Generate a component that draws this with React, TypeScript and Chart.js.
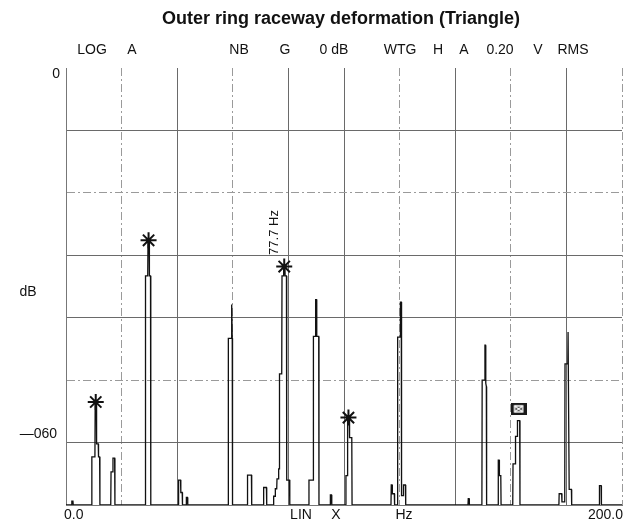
import React, { useEffect, useRef } from "react";
import { Chart, registerables } from "chart.js";

Chart.register(...registerables);

// ---------- data ----------
const TITLE = "Outer ring raceway deformation (Triangle)";
const HEADER_LABELS = ["LOG", "A", "NB", "G", "0 dB", "WTG", "H", "A", "0.20", "V", "RMS"];
const BOTTOM_LABELS = ["0.0", "LIN", "X", "Hz", "200.0"];
const Y_LABELS = ["0", "dB", "\u2014060"];
const PEAK_LABEL = "77.7 Hz";

const X_MIN = 0;
const X_MAX = 200;
const X_STEP = 20;
const Y_MIN = -70;
const Y_MAX = 0;
const Y_STEP = 10;

// spectrum trace (Hz, dB)
const FREQ_HZ = [
  0,
  2.0, 2.1, 2.5, 2.6,
  9.2, 9.3, 10.4, 10.5, 10.9, 11.0, 11.6, 11.7, 12.1, 12.2,
  16.1, 16.2, 16.8, 16.9, 17.5, 17.6,
  28.5, 28.6, 29.4, 29.5, 29.9, 30.0, 30.4, 30.5,
  40.4, 40.5, 41.2, 41.3, 41.8, 41.9, 43.2, 43.3, 43.7, 43.8,
  58.3, 58.4, 59.4, 59.5, 59.7, 59.8, 59.9,
  65.2, 65.3, 66.7, 66.8,
  71.0, 71.1, 72.1, 72.2,
  74.6, 74.7, 75.2, 75.3, 75.8, 75.9, 76.4, 76.5, 76.7, 76.8, 77.6, 77.7, 78.2, 78.3, 78.7, 78.8, 79.3, 79.4, 80.4, 80.5,
  87.3, 87.4, 88.9, 89.0, 89.7, 89.8, 90.1, 90.2, 90.9, 91.0,
  95.0, 95.1, 95.5, 95.6,
  100.6, 100.7, 101.2, 101.3, 101.9, 102.0, 102.8, 102.9,
  116.9, 117.0, 117.3, 117.4, 118.1, 118.2, 119.2, 119.3, 120.2, 120.3, 120.6, 120.7, 121.3, 121.4, 122.1, 122.2,
  144.6, 144.7, 145.0, 145.1,
  149.6, 149.7, 150.6, 150.7, 150.9, 151.0, 151.2, 151.3,
  155.4, 155.5, 155.8, 155.9, 156.4, 156.5,
  160.7, 160.8, 161.6, 161.7, 162.3, 162.4, 163.2, 163.3,
  177.3, 177.4, 178.3, 178.4, 179.4, 179.5, 180.5, 180.6, 180.9, 181.0, 181.8, 181.9,
  191.8, 191.9, 192.5, 192.6,
  200,
];
const LEVEL_DB = [
  -70,
  -70, -69.4, -69.4, -70,
  -70, -62.3, -62.3, -53.5, -53.5, -60.2, -60.2, -62.3, -62.3, -70,
  -70, -64.7, -64.7, -62.5, -62.5, -70,
  -70, -33.3, -33.3, -27.6, -27.6, -33.3, -33.3, -70,
  -70, -66, -66, -68, -68, -70, -70, -68.8, -68.8, -70,
  -70, -43.3, -43.3, -37.9, -37.9, -43.3, -70,
  -70, -65.2, -65.2, -70,
  -70, -67.2, -67.2, -70,
  -70, -68.6, -68.6, -67.4, -67.4, -65.8, -65.8, -64.2, -64.2, -49, -49, -33.3, -33.3, -31.8, -31.8, -33.3, -33.3, -66, -66, -70,
  -70, -66, -66, -43, -43, -37.1, -37.1, -43, -43, -70,
  -70, -68.4, -68.4, -70,
  -70, -65.3, -65.3, -56, -56, -59.2, -59.2, -70,
  -70, -66.8, -66.8, -68.2, -68.2, -70, -70, -43.1, -43.1, -37.5, -37.5, -68.5, -68.5, -66.8, -66.8, -70,
  -70, -69, -69, -70,
  -70, -50, -50, -44.4, -44.4, -50.5, -51, -70,
  -70, -62.8, -62.8, -65.3, -65.3, -70,
  -70, -63.4, -63.4, -59, -59, -56.5, -56.5, -70,
  -70, -68.2, -68.2, -69.5, -69.5, -47.4, -47.4, -42.3, -42.3, -67.5, -67.5, -70,
  -70, -66.9, -66.9, -70,
  -70,
];

// peak markers
const STAR_HZ = [10.7, 29.7, 78.5, 101.6];
const STAR_DB = [-53.5, -27.6, -31.8, -56];
const BOX_HZ = [162.8];
const BOX_DB = [-54.6];

// ---------- layout / style ----------
const W = 627;
const H = 524;
const FONT = '"Liberation Sans", Arial, Helvetica, sans-serif';
const TITLE_X = 341;
const HEADER_X = [92, 132, 239, 285, 334, 400, 438, 464, 500, 538, 573];
const BOTTOM_X = [64, 301, 336, 404, 588];
const SOLID_X = [40, 80, 100, 140, 180];
const SOLID_Y = [-10, -30, -40, -60];

function makeBoxMarker(): HTMLCanvasElement {
  const c = document.createElement("canvas");
  c.width = 16;
  c.height = 12;
  const g = c.getContext("2d")!;
  g.fillStyle = "#1a1a1a";
  g.fillRect(0, 0, 16, 12);
  g.strokeStyle = "#ffffff";
  g.lineWidth = 1.5;
  g.beginPath();
  g.moveTo(4, 3);
  g.lineTo(12, 9);
  g.moveTo(12, 3);
  g.lineTo(4, 9);
  g.stroke();
  g.strokeRect(4, 3, 8, 6);
  return c;
}

const textPlugin = {
  id: "spectrumText",
  afterDraw(chart: any) {
    const ctx = chart.ctx as CanvasRenderingContext2D;
    ctx.save();
    ctx.fillStyle = "#111";
    ctx.textBaseline = "middle";
    ctx.textAlign = "center";
    ctx.font = `bold 18px ${FONT}`;
    ctx.fillText(TITLE, TITLE_X, 19);

    ctx.font = `14px ${FONT}`;
    HEADER_LABELS.forEach((t, i) => ctx.fillText(t, HEADER_X[i], 50));

    BOTTOM_LABELS.forEach((t, i) => {
      ctx.textAlign = i === 0 || i === BOTTOM_LABELS.length - 1 ? "left" : "center";
      ctx.fillText(t, BOTTOM_X[i], 515);
    });

    ctx.textAlign = "right";
    ctx.fillText(Y_LABELS[0], 60, 74);
    ctx.textAlign = "center";
    ctx.fillText(Y_LABELS[1], 28, 292);
    ctx.textAlign = "right";
    ctx.fillText(Y_LABELS[2], 57, 434);

    // rotated peak frequency label
    const xs = chart.scales.x;
    const ys = chart.scales.y;
    ctx.translate(xs.getPixelForValue(STAR_HZ[2]) - 10, ys.getPixelForValue(STAR_DB[2]) - 34);
    ctx.rotate(-Math.PI / 2);
    ctx.font = `13px ${FONT}`;
    ctx.textAlign = "center";
    ctx.fillText(PEAK_LABEL, 0, 0);
    ctx.restore();
  },
};

export default function App() {
  const ref = useRef<HTMLCanvasElement | null>(null);
  useEffect(() => {
    if (!ref.current) return;
    const trace = FREQ_HZ.map((x, i) => ({ x, y: LEVEL_DB[i] }));
    const stars = STAR_HZ.map((x, i) => ({ x, y: STAR_DB[i] }));
    const boxes = BOX_HZ.map((x, i) => ({ x, y: BOX_DB[i] }));
    const chart = new Chart(ref.current, {
      type: "line",
      data: {
        datasets: [
          {
            data: stars,
            showLine: false,
            pointStyle: "star",
            pointRadius: 8,
            pointBorderWidth: 2,
            pointBorderColor: "#111",
            pointBackgroundColor: "#111",
          },
          {
            data: boxes,
            showLine: false,
            pointStyle: makeBoxMarker(),
            pointRadius: 6,
          },
          {
            data: trace,
            borderColor: "#111",
            borderWidth: 1.3,
            pointRadius: 0,
            tension: 0,
            fill: false,
          },
        ],
      },
      options: {
        animation: false,
        responsive: false,
        layout: { autoPadding: false, padding: { left: 66, right: 5, top: 68, bottom: 19 } },
        plugins: {
          legend: { display: false },
          tooltip: { enabled: false },
          title: { display: false },
        },
        scales: {
          x: {
            type: "linear",
            min: X_MIN,
            max: X_MAX,
            afterFit: (s: any) => {
              s.paddingLeft = 0;
              s.paddingRight = 0;
            },
            ticks: { display: false, stepSize: X_STEP },
            grid: {
              drawTicks: false,
              lineWidth: 1,
              color: (c: any) =>
                SOLID_X.includes(Math.round(c.tick?.value)) ? "#6a6a6a" : "#9a9a9a",
            },
            border: {
              display: true,
              color: "#777",
              dash: (c: any) =>
                SOLID_X.includes(Math.round(c.tick?.value)) ? [] : [8, 3, 2, 3],
            },
          },
          y: {
            type: "linear",
            min: Y_MIN,
            max: Y_MAX,
            afterFit: (s: any) => {
              s.paddingTop = 0;
              s.paddingBottom = 0;
            },
            ticks: { display: false, stepSize: Y_STEP },
            grid: {
              drawTicks: false,
              lineWidth: 1,
              color: (c: any) =>
                c.tick?.value === Y_MAX
                  ? "rgba(0,0,0,0)"
                  : SOLID_Y.includes(Math.round(c.tick?.value))
                  ? "#6a6a6a"
                  : "#9a9a9a",
            },
            border: {
              display: true,
              color: "#777",
              dash: (c: any) =>
                SOLID_Y.includes(Math.round(c.tick?.value)) ? [] : [8, 3, 2, 3],
            },
          },
        },
      },
      plugins: [textPlugin],
    });
    return () => chart.destroy();
  }, []);

  return (
    <div style={{ position: "absolute", left: 0, top: 0, width: W, height: H, background: "#fff" }}>
      <canvas ref={ref} width={W} height={H} style={{ display: "block" }} />
    </div>
  );
}
